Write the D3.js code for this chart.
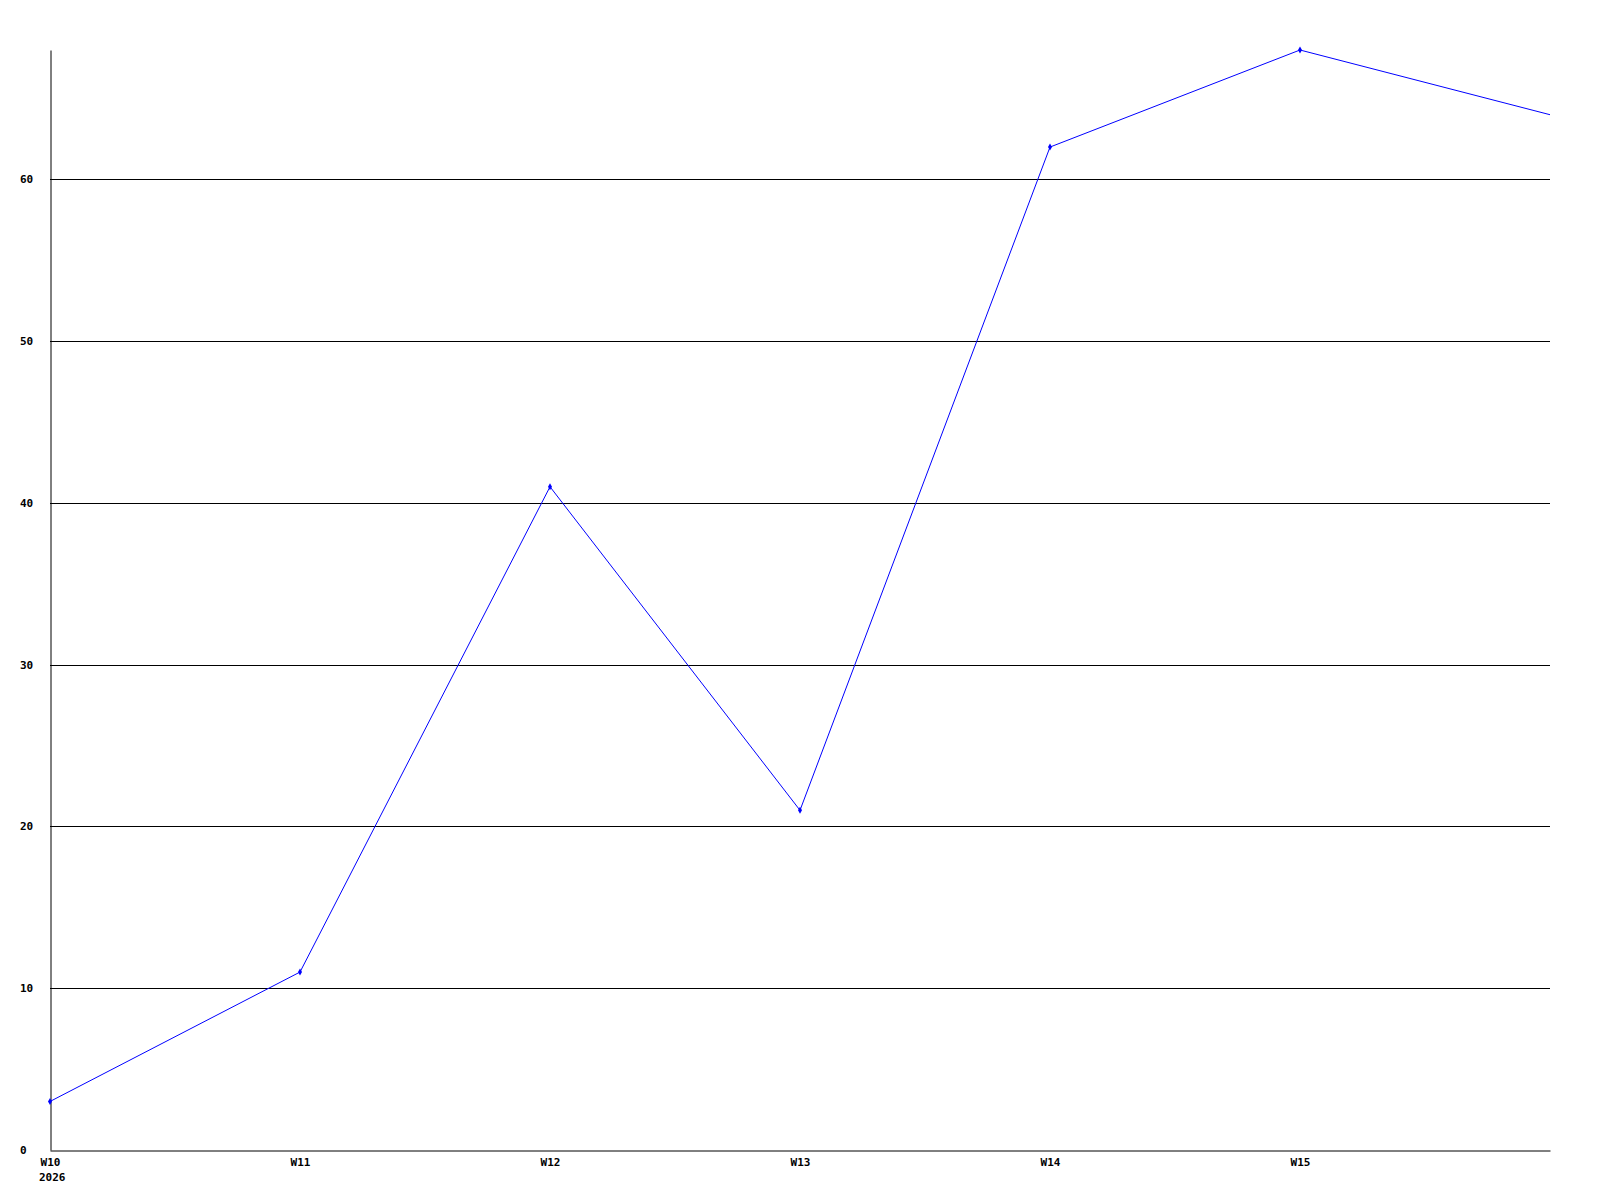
<!DOCTYPE html>
<html>
<head>
<meta charset="utf-8">
<script src="https://cdn.jsdelivr.net/npm/d3@7"></script>
<style>
  body { margin: 0; background: #fff; }
  text { font-family: "DejaVu Sans Mono", monospace; font-weight: bold; font-size: 11px; fill: #000; }
</style>
</head>
<body>
<div id="chart"></div>
<script>
// weekly values
var weeks = ["W10", "W11", "W12", "W13", "W14", "W15", "W16"];
var values = [3, 11, 41, 21, 62, 68, 64];
var weekLabels = ["W10", "W11", "W12", "W13", "W14", "W15"];
var yTicks = [0, 10, 20, 30, 40, 50, 60];
var yearLabel = "2026";

var margin = {top: 50, right: 50, bottom: 50, left: 50},
    width = 1600 - margin.left - margin.right,
    height = 1200 - margin.top - margin.bottom;

var svg = d3.select("#chart")
  .append("svg")
    .attr("width", 1600)
    .attr("height", 1200)
  .append("g")
    .attr("transform", "translate(" + margin.left + "," + margin.top + ")");

var x = d3.scalePoint()
  .domain(weeks)
  .range([0, width]);

var y = d3.scaleLinear()
  .domain([0, d3.max(values)])
  .range([height, 0]);

// grid lines
svg.selectAll(".grid")
  .data(yTicks.filter(function(d) { return d > 0; }))
  .enter()
  .append("line")
    .attr("x1", 0)
    .attr("x2", width)
    .attr("y1", function(d) { return Math.round(y(d)) + 0.5; })
    .attr("y2", function(d) { return Math.round(y(d)) + 0.5; })
    .attr("stroke", "#000")
    .attr("stroke-width", 1);

// y labels, left aligned
svg.selectAll(".ylab")
  .data(yTicks)
  .enter()
  .append("text")
    .attr("x", -30)
    .attr("y", function(d) { return y(d); })
    .attr("dy", "0.35em")
    .text(function(d) { return d; });

// axes
var yAxis = d3.axisLeft(y).tickValues([]).tickSize(0).tickSizeOuter(0);
svg.append("g")
  .attr("transform", "translate(0.5,0)")
  .call(yAxis)
  .select(".domain").attr("stroke", "#000");

var xAxis = d3.axisBottom(x).tickValues(weekLabels).tickSize(0).tickSizeOuter(0).tickPadding(8);
var gx = svg.append("g")
  .attr("transform", "translate(0," + (height + 0.5) + ")")
  .call(xAxis);
gx.select(".domain").attr("stroke", "#000");
gx.selectAll("text")
  .attr("font-family", null)
  .attr("font-size", null)
  .attr("fill", null);

svg.append("text")
  .attr("x", x(weeks[0]) - 11)
  .attr("y", height + 31)
  .attr("text-anchor", "start")
  .text(yearLabel);

// line
var line = d3.line()
  .x(function(d, i) { return x(weeks[i]); })
  .y(function(d) { return y(d); });

svg.append("path")
  .datum(values)
  .attr("fill", "none")
  .attr("stroke", "#0000ff")
  .attr("stroke-width", 1)
  .attr("d", line);

// point markers
svg.selectAll(".pt")
  .data(values.slice(0, values.length - 1))
  .enter()
  .append("path")
    .attr("transform", function(d, i) { return "translate(" + x(weeks[i]) + "," + y(d) + ")"; })
    .attr("d", d3.symbol().type(d3.symbolDiamond).size(14))
    .attr("fill", "#0000ff");
</script>
</body>
</html>
